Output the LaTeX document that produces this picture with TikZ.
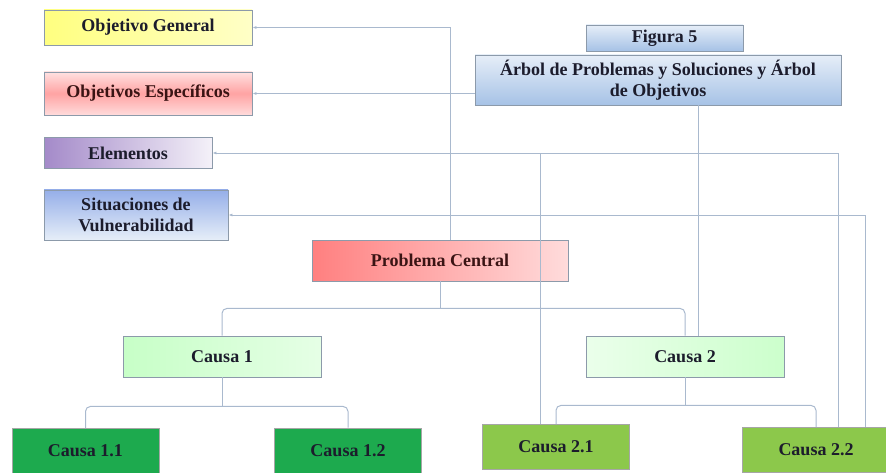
\documentclass[tikz,border=0pt]{standalone}
\usepackage{fontspec}
\setmainfont{Liberation Serif}
\usetikzlibrary{arrows.meta,positioning,calc}
\definecolor{Borde}{HTML}{8C9AAA}
\definecolor{Linea}{HTML}{A9B9CE}
\definecolor{VerdeOsc}{HTML}{1DAA4E}
\definecolor{VerdeMed}{HTML}{8CC84B}
\definecolor{AzulCl}{HTML}{E6EEF8}
\definecolor{AzulMd}{HTML}{A6C2E6}
\definecolor{Lila}{HTML}{A48AC9}
\definecolor{Granate}{HTML}{3A1414}
\definecolor{Tinta}{HTML}{1C1C2C}
\tikzset{
  caja/.style   = {draw=Borde, line width=0.8pt, align=center, inner sep=2pt,
                   text=Tinta, font=\bfseries\fontsize{18}{21}\selectfont},
  objgen/.style = {caja, left color=yellow!50, right color=yellow!22,
                   minimum width=208pt, minimum height=35pt},
  objesp/.style = {caja, text=Granate, top color=red!12, bottom color=red!14,
                   middle color=red!36, minimum width=208pt, minimum height=43pt},
  elem/.style   = {caja, left color=Lila, right color=Lila!12,
                   minimum width=168pt, minimum height=31pt},
  vuln/.style   = {caja, top color=AzulMd!90!blue, bottom color=AzulCl,
                   minimum width=184pt, minimum height=50pt},
  titulo/.style = {caja, top color=AzulCl, bottom color=AzulMd},
  central/.style= {caja, text=Granate, left color=red!50!white, right color=red!14,
                   minimum width=256pt, minimum height=41pt},
  causa/.style  = {caja, minimum width=198pt, minimum height=41pt},
  sub/.style    = {caja, draw=gray!70, minimum width=147pt, minimum height=45pt},
  enlace/.style = {-{Latex[length=4pt,width=3pt]}, draw=Linea, line width=0.8pt},
  linea/.style  = {draw=Linea, line width=0.8pt},
  rama/.style   = {draw=Linea, line width=1pt, rounded corners=5pt},
}
\begin{document}
\begin{tikzpicture}[x=1pt,y=-1pt]
  \useasboundingbox (0,0) rectangle (886,473);
  % columna izquierda
  \node[objgen] (OG) at (148,27.5) {Objetivo General};
  \node[objesp] (OE) at (148,93.5) {Objetivos Específicos};
  \node[elem]   (EL) at (128,153) {Elementos};
  \node[vuln]   (SV) at (136,215) {Situaciones de\\Vulnerabilidad};
  % titulo
  \node[titulo,minimum width=157pt,minimum height=26pt] (F5) at (664.5,38) {Figura 5};
  \node[titulo,minimum width=366pt,minimum height=50pt] (AR) at (658,80)
       {Árbol de Problemas y Soluciones y Árbol\\de Objetivos};
  % arbol
  \node[central] (PC) at (440,260.5) {Problema Central};
  \node[causa,left color=green!22!white,right color=green!10!white] (C1) at (222,356.5) {Causa 1};
  \node[causa,left color=green!8!white,right color=green!20!white] (C2) at (685,356.5) {Causa 2};
  \node[sub,fill=VerdeOsc]  (C11) at (85.5,451) {Causa 1.1};
  \node[sub,fill=VerdeOsc]  (C12) at (348,450.5) {Causa 1.2};
  \node[sub,fill=VerdeMed]  (C21) at (556,447) {Causa 2.1};
  \node[sub,fill=VerdeMed]  (C22) at (816,450) {Causa 2.2};

  \draw[rama] (PC.south) -- ++(0,27);
  \draw[rama] (C1.north) |- ($(PC.south)+(0,27)$) -| (C2.north);
  \draw[rama] (C1.south) -- ++(0,29);
  \draw[rama] (C11.north) |- ($(C1.south)+(0,29)$) -| (C12.north);
  \draw[rama] (C2.south) -- ++(0,28);
  \draw[rama] (C21.north) |- ($(C2.south)+(0,28)$) -| (C22.north);

  \coordinate (pctop) at ($(PC.north)+(10,0)$);
  \coordinate (c21top) at ($(C21.north)+(-16,0)$);
  \coordinate (c22a) at ($(C22.north)+(22,0)$);
  \coordinate (c22b) at ($(C22.north)+(49,0)$);
  \coordinate (c2top) at ($(C2.north)+(13,0)$);
  \draw[enlace] (pctop) |- (OG.east);
  \draw[enlace] (AR.west |- OE.east) -- (OE.east);
  \draw[enlace] (c22a) |- (EL.east);
  \draw[enlace] (c22b) |- (SV.east);
  \draw[linea] (c21top) -- (c21top |- EL.east);
  \draw[linea] (c2top |- AR.south) -- (c2top);
\end{tikzpicture}
\end{document}
